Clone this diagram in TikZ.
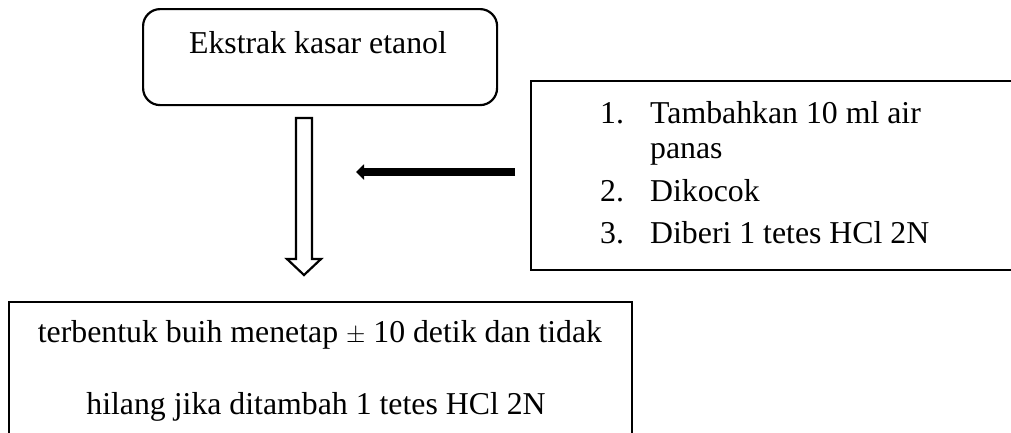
\documentclass[tikz,border=0pt]{standalone}
\usepackage{fontspec}
\setmainfont{Liberation Serif}
\usetikzlibrary{arrows.meta,calc}
\begin{document}
\begin{tikzpicture}[x=1pt,y=-1pt,
  txt/.style={font=\fontsize{31.8}{36}\selectfont, inner sep=0pt},
  frame/.style={draw, line width=2.2pt},
  boxnode/.style={frame, anchor=north west, inner sep=0pt},
]
\useasboundingbox (0,0) rectangle (1011,432);

% boxes
\node[boxnode, rounded corners=17pt, minimum width=354pt, minimum height=96pt] (start) at (142,8) {};
\node[boxnode, minimum width=620pt, minimum height=189pt] (steps) at (530,80) {};
\node[boxnode, minimum width=623pt, minimum height=200pt] (result) at (8,301) {};

% texts
\node[txt, anchor=base] (startlbl) at (318,53) {Ekstrak kasar etanol};

\node[txt, anchor=base west] (s1) at (600,123) {\makebox[50pt][l]{1.}Tambahkan 10 ml air};
\node[txt, anchor=base west] (s1b) at (650,158) {panas};
\node[txt, anchor=base west] (s2) at (600,201) {\makebox[50pt][l]{2.}Dikocok};
\node[txt, anchor=base west] (s3) at (600,243) {\makebox[50pt][l]{3.}Diberi 1 tetes HCl 2N};

\node[txt, anchor=base] (r1) at (320,342) {terbentuk buih menetap $\pm$ 10 detik dan tidak};
\node[txt, anchor=base] (r2) at (316,414) {hilang jika ditambah 1 tetes HCl 2N};

% hollow block arrow from the extract down to the result
\coordinate (hs) at (304,118);
\coordinate (ht) at (304,275);
\draw[frame, line join=miter, fill=white]
  ($(hs)+(-8,0)$) -- ($(hs)+(8,0)$) -- ($(ht)+(8,-16)$) -- ($(ht)+(17,-16)$)
  -- (ht) -- ($(ht)+(-17,-16)$) -- ($(ht)+(-8,-16)$) -- cycle;

% solid arrow from the treatment steps
\coordinate (bs) at (515,172);
\coordinate (bt) at (356,172);
\draw[line width=8.5pt, -{Triangle[length=8pt,width=15pt]}] (bs) -- (bt);
\end{tikzpicture}
\end{document}
